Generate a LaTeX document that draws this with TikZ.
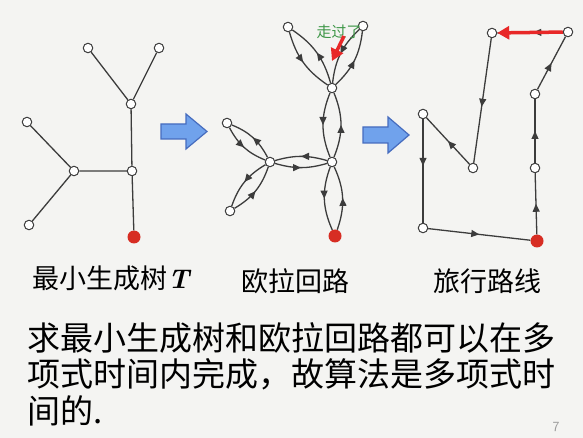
\documentclass[tikz,border=0pt]{standalone}
\usepackage{fontspec}
\newfontfamily\cjk{Noto Sans CJK SC}
\usetikzlibrary{arrows.meta,decorations.markings}

\definecolor{bgcol}{RGB}{244,244,242}
\definecolor{edgecol}{RGB}{60,60,60}
\definecolor{rootred}{RGB}{215,45,35}
\definecolor{arrowred}{RGB}{232,40,40}
\definecolor{blockfill}{RGB}{112,162,236}
\definecolor{blockdraw}{RGB}{70,108,190}
\definecolor{notegreen}{RGB}{60,150,70}

\begin{document}
\begin{tikzpicture}[x=1pt,y=1pt,
  vtx/.style={circle,draw=edgecol,fill=white,line width=1pt,inner sep=0pt,minimum size=9.5pt},
  root/.style={circle,fill=rootred,inner sep=0pt,minimum size=13pt},
  edge/.style={draw=edgecol,line width=1.3pt},
  tour/.style={edge,postaction={decorate},decoration={markings,
    mark=at position #1 with {\arrow[edgecol]{Triangle[length=8pt,width=7pt]}}}},
  tour/.default=0.5,
  hot/.style={draw=arrowred,line width=3.5pt,-{Triangle[length=12pt,width=13pt]}},
  blockarrow/.style={fill=blockfill,draw=blockdraw,line width=1.2pt,line join=miter},
  caption/.style={font=\cjk\fontsize{27}{30}\selectfont,inner sep=0pt},
  body/.style={font=\cjk\fontsize{33}{36}\selectfont,inner sep=0pt,anchor=west}]

\fill[bgcol] (0,0) rectangle (583,-438);
\useasboundingbox (0,0) rectangle (583,-438);

% minimum spanning tree
\node[vtx] (t1) at (88,-48) {};
\node[vtx] (t2) at (159,-48) {};
\node[vtx] (t3) at (131,-104) {};
\node[vtx] (t4) at (132,-171) {};
\node[vtx] (t5) at (74,-171) {};
\node[vtx] (t6) at (27,-122) {};
\node[vtx] (t7) at (29,-225) {};
\node[root] (tr) at (134,-237) {};

\draw[edge] (t1)--(t3)--(t2);
\draw[edge] (t3)--(t4)--(tr);
\draw[edge] (t4)--(t5)--(t6);
\draw[edge] (t5)--(t7);

\node[caption] (cap1) at (111,-278) {最小生成树{\rmfamily\bfseries\itshape T}};

\draw[blockarrow] (161,-124)--(186,-124)--(186,-114)--(207,-131.5)--(186,-149)--(186,-139)--(161,-139)--cycle;

% Euler circuit
\node[vtx] (e1) at (288,-27) {};
\node[vtx] (e2) at (363,-26) {};
\node[vtx] (e3) at (332,-88) {};
\node[vtx] (e4) at (332,-162) {};
\node[vtx] (e5) at (270,-162) {};
\node[vtx] (e6) at (227,-123) {};
\node[vtx] (e7) at (230,-211) {};
\node[root] (er) at (335,-236) {};

\draw[tour] (er) to[bend right=22] (e4);
\draw[tour] (e4) to[bend right=22] (e3);
\draw[tour] (e3) to[bend right=20] (e2);
\draw[tour] (e2) to[bend right=20] (e3);
\draw[tour] (e3) to[bend right=20] (e1);
\draw[tour] (e1) to[bend right=20] (e3);
\draw[tour] (e3) to[bend right=22] (e4);
\draw[tour] (e4) to[bend right=16] (e5);
\draw[tour] (e5) to[bend right=20] (e6);
\draw[tour] (e6) to[bend right=20] (e5);
\draw[tour] (e5) to[bend right=20] (e7);
\draw[tour] (e7) to[bend right=20] (e5);
\draw[tour] (e5) to[bend right=16] (e4);
\draw[tour] (e4) to[bend right=22] (er);

\node[text=notegreen,font=\cjk\fontsize{15}{16}\selectfont,inner sep=0pt] (seen) at (339,-32) {走过了};
\coordinate (s1) at (344,-36);
\coordinate (s2) at (332,-61);
\draw[hot] (s1)--(s2);

\node[caption] (cap2) at (295,-281) {欧拉回路};

\draw[blockarrow] (363,-127)--(388,-127)--(388,-117)--(409,-135)--(388,-153)--(388,-143)--(363,-143)--cycle;

% travelling route
\node[vtx] (c1) at (492,-33) {};
\node[vtx] (c2) at (568,-32) {};
\node[vtx] (c3) at (535,-94) {};
\node[vtx] (c4) at (535,-168) {};
\node[vtx] (c5) at (423,-228) {};
\node[vtx] (c6) at (423,-114) {};
\node[vtx] (c7) at (473,-168) {};
\node[root] (cr) at (537,-241) {};

\draw[tour] (cr)--(c4);
\draw[tour] (c4)--(c3);
\draw[tour] (c3)--(c2);
\draw[tour=0.45] (c2)--(c1);
\draw[tour=0.55] (c1)--(c7);
\draw[tour] (c7)--(c6);
\draw[tour=0.45] (c6)--(c5);
\draw[tour] (c5)--(cr);
\draw[hot] (c2)--(c1);

\node[caption] (cap3) at (487,-281) {旅行路线};

% conclusion
\node[body] (line1) at (27,-338) {求最小生成树和欧拉回路都可以在多};
\node[body] (line2) at (27,-374) {项式时间内完成，故算法是多项式时};
\node[body] (line3) at (27,-411) {间的.};

\node[text=gray!80,font=\sffamily\fontsize{14}{16}\selectfont,inner sep=0pt] (page) at (556,-427) {7};
\end{tikzpicture}
\end{document}
